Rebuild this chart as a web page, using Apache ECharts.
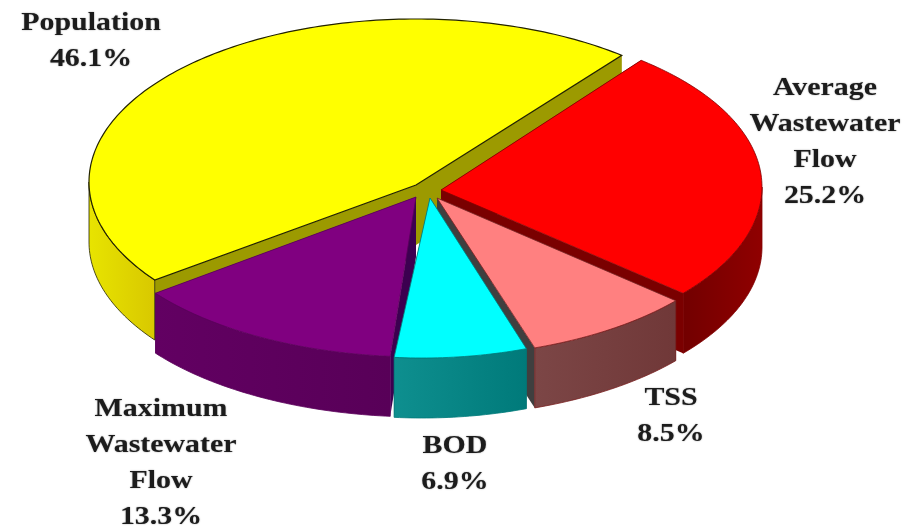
<!DOCTYPE html>
<html>
<head>
<meta charset="UTF-8">
<title>Pie</title>
<style>
html,body{margin:0;padding:0;background:#fff;}
#main{width:919px;height:526px;}
</style>
</head>
<body>
<div id="main"></div>
<script src="https://cdn.jsdelivr.net/npm/echarts@6/dist/echarts.min.js"></script>
<script>
// data, in pie order (counter-clockwise from startAngle)
var categories = ['Population', 'Maximum\nWastewater\nFlow', 'BOD', 'TSS', 'Average\nWastewater\nFlow'];
var shares = [46.1, 13.3, 6.9, 8.5, 25.2];

// colours per slice
var topColors = ['#ffff00', '#800080', '#00ffff', '#ff8080', '#ff0000'];
var cutColors = ['#9c9a00', '#3c0050', '#2f4f4f', '#3f3f3f', '#7a0000'];
var wallLeft = ['#e8e400', '#620062', '#0e8f8f', '#7c4646', '#720000'];
var wallRight = ['#d8c800', '#580058', '#007a7a', '#703838', '#900000'];
var edgeColors = ['#222200', '#5a005a', '#007a7a', '#7a2020', '#800000'];

// layout per slice, px: the picture is a perspective view, so each slice has its own ellipse
var apexX = [416, 416, 430, 437, 441];
var apexY = [185, 197, 198, 198, 190];
var rimX = [416, 420, 422, 425, 436];
var rimY = [182, 197, 198, 201, 187];
var rimRx = [327, 331, 310, 326, 326];
var rimRy = [163, 160, 160, 156, 163];
var fromNudge = [0, 0, 0, 0, -1];

// label anchors, px (centre of the text block)
var labelX = [91, 161, 455, 671, 825];
var labelY = [41, 463, 464, 416, 142];
var drawOrder = [0, 4, 1, 3, 2];

var startAngle = 51;
var depth = 60;

var total = shares.reduce(function (a, b) { return a + b; }, 0);
var slices = [];
var acc = startAngle;
shares.forEach(function (v, i) {
	var span = v / total * 360;
	slices[i] = { from: acc + fromNudge[i], to: acc + span };
	acc += span;
});

function rad(d) { return d * Math.PI / 180; }

function rimPoint(i, a, dy) {
	return [rimX[i] + rimRx[i] * Math.cos(rad(a)), rimY[i] - rimRy[i] * Math.sin(rad(a)) + dy];
}

function rimPoints(i, from, to, dy) {
	var pts = [];
	for (var a = from; a < to; a += 1) {
		pts.push(rimPoint(i, a, dy));
	}
	pts.push(rimPoint(i, to, dy));
	return pts;
}

function cutFace(i, ang) {
	var p = rimPoint(i, ang, 0);
	return {
		type: 'polygon',
		shape: { points: [[apexX[i], apexY[i]], p, [p[0], p[1] + depth], [apexX[i], apexY[i] + depth]] },
		style: { fill: cutColors[i] }
	};
}

// outer wall pieces, only where the rim faces the viewer (the front half)
function wallPieces(s, i) {
	var out = [];
	[[180, 360], [540, 720]].forEach(function (r) {
		var a = Math.max(s.from, r[0]), b = Math.min(s.to, r[1]);
		if (a >= b) return;
		var top = rimPoints(i, a, b, 0);
		var bottom = rimPoints(i, a, b, depth).reverse();
		out.push({
			type: 'polygon',
			shape: { points: top.concat(bottom) },
			style: {
				fill: new echarts.graphic.LinearGradient(0, 0, 1, 0, [
					{ offset: 0, color: wallLeft[i] },
					{ offset: 1, color: wallRight[i] }
				]),
				stroke: edgeColors[i],
				lineWidth: 0.8
			}
		});
	});
	return out;
}

function renderSlice(params, api) {
	var i = api.value(0);
	var s = slices[i];
	var children = [cutFace(i, s.from), cutFace(i, s.to)].concat(wallPieces(s, i));
	children.push({
		type: 'polygon',
		shape: { points: [[apexX[i], apexY[i]]].concat(rimPoints(i, s.from, s.to, 0)) },
		style: { fill: topColors[i], stroke: edgeColors[i], lineWidth: i === 0 ? 1.2 : 0.8 }
	});
	return { type: 'group', children: children };
}

var labels = categories.map(function (name, i) {
	return {
		type: 'text',
		x: labelX[i],
		y: labelY[i],
		scaleX: 1.15,
		z: 10,
		style: {
			text: name + '\n' + shares[i].toFixed(1) + '%',
			font: 'bold 26px "Liberation Serif"',
			lineHeight: 36,
			fill: '#1c1c1c',
			align: 'center',
			verticalAlign: 'middle',
			textShadowColor: 'rgba(40,40,40,0.55)',
			textShadowBlur: 1.5
		}
	};
});

var myChart = echarts.init(document.getElementById('main'));
myChart.setOption({
	animation: false,
	backgroundColor: '#ffffff',
	series: [{
		type: 'custom',
		coordinateSystem: 'none',
		renderItem: renderSlice,
		data: drawOrder.map(function (i) { return [i, shares[i]]; }),
		silent: true
	}],
	graphic: labels
});
</script>
</body>
</html>
